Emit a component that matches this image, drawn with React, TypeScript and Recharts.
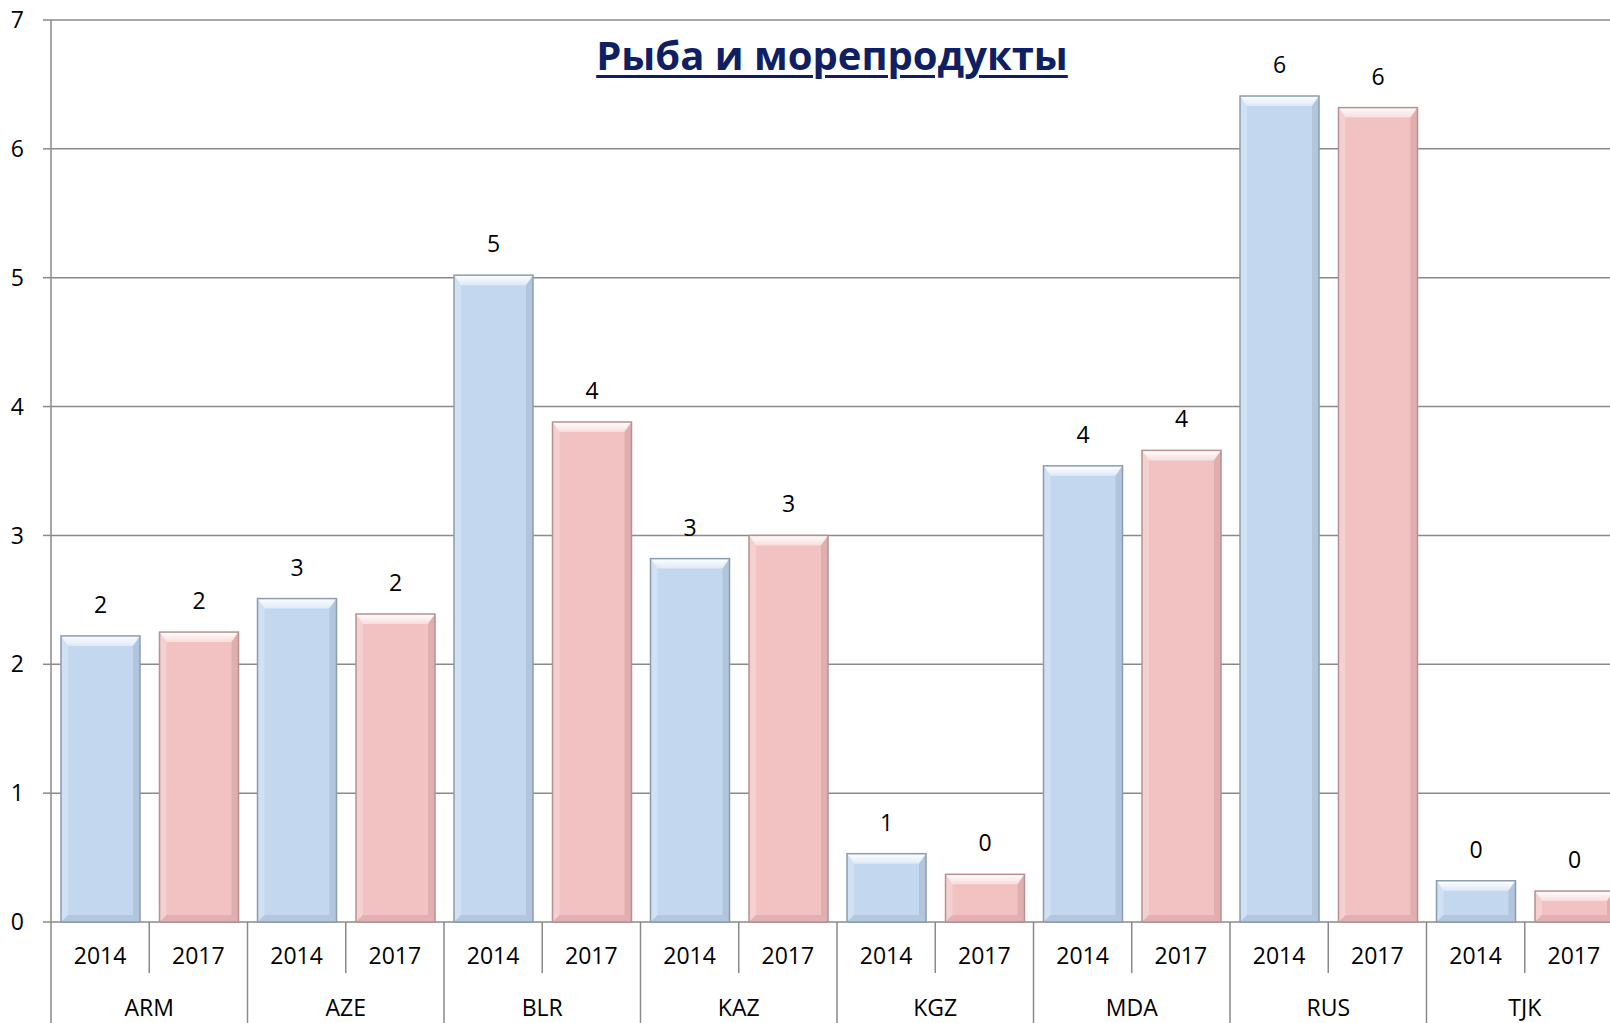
import { BarChart, Bar, XAxis, YAxis, CartesianGrid, LabelList } from 'recharts';

const countries = ['ARM', 'AZE', 'BLR', 'KAZ', 'KGZ', 'MDA', 'RUS', 'TJK'];
const years = ['2014', '2017'];
const values2014 = [2.22, 2.51, 5.02, 2.82, 0.53, 3.54, 6.41, 0.32];
const values2017 = [2.25, 2.39, 3.88, 3.0, 0.37, 3.66, 6.32, 0.24];
const yTicks = [0, 1, 2, 3, 4, 5, 6, 7];

const data = countries.map((c, i) => ({ country: c, y2014: values2014[i], y2017: values2017[i] }));

const CHART_W = 1640;
const CHART_H = 1023;
const Y_AXIS_W = 51;
const MARGIN = { top: 20, right: 17, left: 0, bottom: 0 };
const X_AXIS_H = 101;
const BAND = (CHART_W - MARGIN.left - MARGIN.right - Y_AXIS_W) / countries.length;

const GRID = '#8a8a8a';
const FONT = '"Open Sans", sans-serif';

// bar with a bevelled, slightly 3d look
const makeBevel = (base: string, light: string, dark: string, edge: string, id: string) => (props: any) => {
  const { x, y, width: w, height: h } = props;
  if (!h || h <= 0) return <g />;
  const b = Math.min(10, h / 2.5);
  const s = Math.min(7, h / 4);
  return (
    <g>
      <defs>
        <linearGradient id={id} x1="0" y1="0" x2="0" y2="1">
          <stop offset="0%" stopColor="#ffffff" />
          <stop offset="100%" stopColor={light} />
        </linearGradient>
      </defs>
      <rect x={x} y={y} width={w} height={h} fill={base} />
      <polygon points={`${x},${y} ${x + w},${y} ${x + w - s},${y + b} ${x + s},${y + b}`} fill={`url(#${id})`} />
      <polygon points={`${x},${y} ${x + s},${y + b} ${x + s},${y + h - s} ${x},${y + h}`} fill={light} opacity={0.55} />
      <polygon points={`${x + w},${y} ${x + w},${y + h} ${x + w - s},${y + h - s} ${x + w - s},${y + b}`} fill={dark} opacity={0.5} />
      <polygon points={`${x},${y + h} ${x + s},${y + h - s} ${x + w - s},${y + h - s} ${x + w},${y + h}`} fill={dark} opacity={0.45} />
      <rect x={x} y={y} width={w} height={h} fill="none" stroke={edge} strokeWidth={1.5} />
    </g>
  );
};

const BlueBar = makeBevel('#c3d7ef', '#dde9f7', '#9fb3ca', '#8c9cb0', 'blueTop');
const PinkBar = makeBevel('#f2c2c3', '#f8dcdc', '#cc9c9d', '#b89090', 'pinkTop');

const GroupTick = (props: any) => {
  const { x, y, payload } = props;
  const left = x - BAND / 2;
  return (
    <g>
      <line x1={left} y1={y} x2={left} y2={CHART_H} stroke={GRID} strokeWidth={1.5} />
      <line x1={x} y1={y} x2={x} y2={y + 51} stroke={GRID} strokeWidth={1.5} />
      {years.map((yr, i) => (
        <text key={yr} x={x + (i === 0 ? -BAND / 4 : BAND / 4)} y={y + 42} textAnchor="middle"
          fontSize={23} fontFamily={FONT} fill="#000">{yr}</text>
      ))}
      <text x={x} y={y + 94} textAnchor="middle" fontSize={23} fontFamily={FONT} fill="#000">
        {payload.value}
      </text>
    </g>
  );
};

export default function App() {
  return (
    <div style={{ position: 'absolute', left: 0, top: 0, width: 1610, height: 1023, overflow: 'hidden', background: '#fff', fontFamily: FONT }}>
      <BarChart width={CHART_W} height={CHART_H} data={data} margin={MARGIN} barSize={79} barGap={19.5}>
        <CartesianGrid vertical={false} stroke={GRID} strokeWidth={1.5} />
        <XAxis dataKey="country" height={X_AXIS_H} axisLine={false} tickLine={false} tickSize={0} tickMargin={0}
          interval={0} tick={<GroupTick />} />
        <YAxis width={Y_AXIS_W} domain={[0, 7]} ticks={yTicks} interval={0} tickSize={8} tickMargin={19}
          axisLine={{ stroke: GRID, strokeWidth: 1.5 }} tickLine={{ stroke: GRID, strokeWidth: 1.5 }}
          tick={{ fontSize: 23, fill: '#000', fontFamily: FONT }} />
        <Bar dataKey="y2014" shape={<BlueBar />} isAnimationActive={false}>
          <LabelList dataKey="y2014" position="top" offset={23} formatter={(v: number) => Math.round(v)}
            style={{ fontSize: 23, fill: '#000', fontFamily: FONT }} />
        </Bar>
        <Bar dataKey="y2017" shape={<PinkBar />} isAnimationActive={false}>
          <LabelList dataKey="y2017" position="top" offset={23} formatter={(v: number) => Math.round(v)}
            style={{ fontSize: 23, fill: '#000', fontFamily: FONT }} />
        </Bar>
      </BarChart>
      <div style={{ position: 'absolute', left: 432, top: 35, width: 800, textAlign: 'center', fontSize: 40, lineHeight: '40px',
        fontWeight: 700, color: '#0e2063', textDecoration: 'underline', textDecorationThickness: 3, textUnderlineOffset: 5 }}>
        Рыба и морепродукты
      </div>
    </div>
  );
}
